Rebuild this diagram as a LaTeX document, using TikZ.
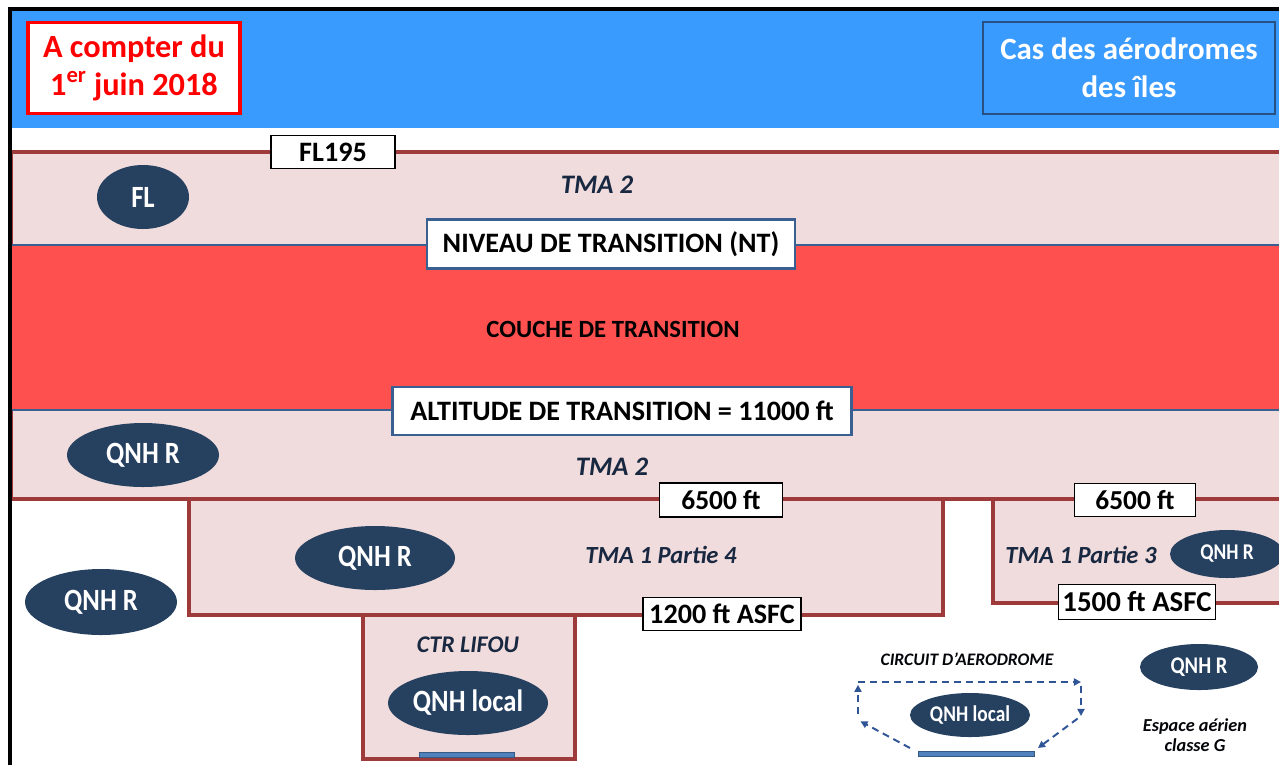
\documentclass[tikz,border=0pt]{standalone}
\usepackage{fontspec}
\setmainfont{Carlito}
\newfontfamily\qnhfont[FakeStretch=0.86]{Carlito}
\usetikzlibrary{shapes.geometric, arrows.meta, positioning}

\definecolor{bannerblue}{RGB}{58,155,255}
\definecolor{boxblue}{RGB}{40,80,130}
\definecolor{tmapink}{RGB}{240,220,220}
\definecolor{tmaborder}{RGB}{158,58,58}
\definecolor{layerred}{RGB}{255,80,80}
\definecolor{lineblue}{RGB}{58,95,145}
\definecolor{qnhnavy}{RGB}{38,64,96}
\definecolor{labelnavy}{RGB}{25,40,65}
\definecolor{circuitblue}{RGB}{47,85,151}
\definecolor{runwayblue}{RGB}{79,129,189}

\newcommand{\px}{0.025cm}
\newcommand{\fsz}[2]{\fontsize{#1}{#2}\selectfont}

\begin{document}
\begin{tikzpicture}[
    x=0.025cm, y=-0.025cm,
    border/.style={draw=tmaborder, line width=2.2pt},
    translevel/.style={draw=lineblue, line width=2pt},
    datebox/.style={rectangle, draw=red, fill=white, text=red, line width=2.5pt, align=center, inner sep=0pt, font=\bfseries\fsz{23}{27}},
    islandbox/.style={rectangle, draw=boxblue, fill=bannerblue, text=white, line width=2pt, align=center, inner sep=0pt, font=\bfseries\fsz{22}{27}},
    level/.style={rectangle, draw=black, fill=white, line width=1pt, inner sep=0pt, font=\bfseries\fsz{19.5}{22}},
    transition/.style={rectangle, draw=lineblue, fill=white, line width=2pt, inner sep=0pt, font=\bfseries\fsz{20}{24}},
    qnh/.style={ellipse, fill=qnhnavy, text=white, inner sep=0pt, font=\qnhfont\bfseries\fsz{22}{24}},
    zone/.style={text=labelnavy, font=\bfseries\itshape\fsz{17.5}{20}},
    circuit/.style={-{Triangle[length=5pt,width=5pt]}, circuitblue, line width=1.4pt, dash pattern=on 5pt off 3.5pt},
    runway/.style={rectangle, fill=runwayblue, draw=runwayblue!70!black, line width=0.4pt, inner sep=0pt}
]
\useasboundingbox (0,0) rectangle (1279,765);

% banner and airspace layers
\fill[bannerblue] (10,9) rectangle (1279,128);
\fill[tmapink] (11,152) rectangle (1279,245);
\fill[layerred] (11,245) rectangle (1279,410);
\fill[tmapink] (11,410) rectangle (1279,499);
\fill[tmapink] (189,499) rectangle (943,615);
\fill[tmapink] (993,499) rectangle (1279,603);
\fill[tmapink] (363,615) rectangle (575,759);

\draw[border] (11,245) -- (11,152) -- (1279,152);
\draw[border] (11,410) -- (11,499) -- (1279,499);
\draw[border] (189,499) -- (189,615) -- (943,615) -- (943,499);
\draw[border] (993,499) -- (993,603) -- (1279,603);
\draw[border] (363,615) -- (363,759) -- (575,759) -- (575,615);
\draw[translevel] (11,245) -- (1279,245);
\draw[translevel] (11,410) -- (1279,410);

% frame
\draw[line width=2.2pt] (10,765) -- (10,9) -- (1279,9);

% header
\node[datebox, minimum width=212*\px, minimum height=91*\px] (startdate) at (134,68) {A compter du\\1\textsuperscript{er} juin 2018};
\node[islandbox, minimum width=292*\px, minimum height=92*\px] (islands) at (1129,68) {Cas des aérodromes\\des îles};

% TMA 2 above the transition layer
\node[level, minimum width=124*\px, minimum height=33*\px, font=\bfseries\fsz{20}{22}] (fl195) at (333,152) {FL195};
\node[qnh, minimum width=92*\px, minimum height=64*\px] (fl) at (143,197) {FL};
\node[zone, font=\bfseries\itshape\fsz{19}{22}] (tma2up) at (597,185) {TMA 2};

% transition layer
\node[transition, minimum width=368*\px, minimum height=49*\px] (nt) at (611,244) {NIVEAU DE TRANSITION (NT)};
\node[font=\bfseries\fsz{17.6}{20}] (couche) at (613,329) {COUCHE DE TRANSITION};
\node[transition, minimum width=459*\px, minimum height=48*\px] (ta) at (622,411) {ALTITUDE DE TRANSITION = 11000 ft};

% TMA 2 below
\node[qnh, minimum width=152*\px, minimum height=64*\px] (qnhtma2) at (143,455) {QNH R};
\node[zone, font=\bfseries\itshape\fsz{19}{22}] (tma2low) at (612,467) {TMA 2};

% TMA 1 Partie 4
\node[level, minimum width=123*\px, minimum height=34*\px] (p4top) at (721,500) {6500 ft};
\node[qnh, minimum width=160*\px, minimum height=64*\px] (qnhp4) at (375,558) {QNH R};
\node[zone] (tma1p4) at (661,555) {TMA 1 Partie 4};
\node[level, minimum width=158*\px, minimum height=33*\px, font=\bfseries\fsz{20}{24}] (p4low) at (722,614) {1200 ft ASFC};

% TMA 1 Partie 3
\node[level, minimum width=121*\px, minimum height=33*\px] (p3top) at (1135,500) {6500 ft};
\node[zone] (tma1p3) at (1081,555) {TMA 1 Partie 3};
\node[qnh, minimum width=114*\px, minimum height=48*\px, font=\qnhfont\bfseries\fsz{16}{18}] (qnhp3) at (1227,554) {QNH R};
\node[level, minimum width=157*\px, minimum height=35*\px, font=\bfseries\fsz{20.5}{24}] (p3low) at (1137,602) {1500 ft ASFC};

% outside the TMA
\node[qnh, minimum width=152*\px, minimum height=66*\px] (qnhout) at (101,602) {QNH R};

% CTR
\node[zone, font=\bfseries\itshape\fsz{17}{20}] (ctr) at (468,645) {CTR LIFOU};
\node[qnh, minimum width=160*\px, minimum height=64*\px] (qnhctr) at (468,703) {QNH local};
\node[runway, minimum width=95*\px, minimum height=5*\px] (ctrrwy) at (467,755) {};

% aerodrome circuit
\node[zone, text=black!85!labelnavy, font=\bfseries\itshape\fsz{12.5}{14}] (circ) at (967,659) {CIRCUIT D'AERODROME};
\node[qnh, minimum width=120*\px, minimum height=44*\px, font=\qnhfont\bfseries\fsz{16}{18}] (qnhcirc) at (970,715) {QNH local};
\node[runway, minimum width=116*\px, minimum height=5*\px] (circrwy) at (976,754) {};

\coordinate (bl) at (910,748);
\coordinate (ml) at (858,720);
\coordinate (tl) at (858,682);
\coordinate (tr) at (1081,682);
\coordinate (mr) at (1081,716);
\coordinate (br) at (1038,748);

\draw[circuit, shorten >=2pt] (bl) -- (ml);
\draw[circuit, shorten <=4pt, shorten >=2pt] (ml) -- (tl);
\draw[circuit] (tl) -- (tr);
\draw[circuit, shorten <=3pt] (tr) -- (mr);
\draw[circuit, shorten <=3pt] (mr) -- (br);

% class G airspace
\node[qnh, minimum width=118*\px, minimum height=46*\px, font=\qnhfont\bfseries\fsz{17}{19}] (qnhg) at (1199,667) {QNH R};
\node[align=center, text=black!85!labelnavy, font=\bfseries\itshape\fsz{13}{14.2}] (classg) at (1195,735) {Espace aérien\\classe G};

\end{tikzpicture}
\end{document}
